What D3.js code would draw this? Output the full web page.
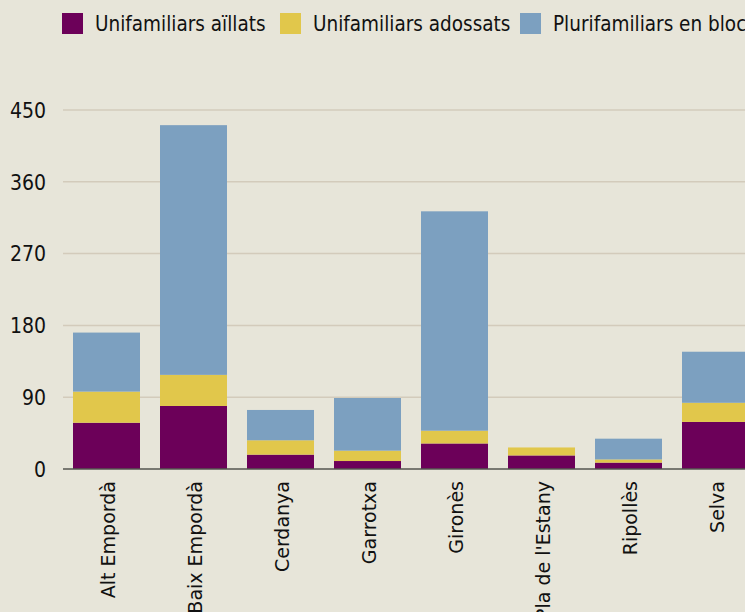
<!DOCTYPE html>
<html lang="ca">
<head>
    <meta charset="UTF-8">
    <title>Habitatges per comarca</title>
    <script src="https://d3js.org/d3.v7.min.js"></script>
    <style>
    body{
        margin: 0;
        background: #e7e5d9;
        overflow: hidden;
    }
    .grid line{
        stroke: #d3cbbb;
        stroke-width: 1.5;
    }
    .axis text{
        font-family: "DejaVu Sans Condensed", sans-serif;
        font-size: 21px;
        fill: #111;
    }
    .xlabel{
        font-family: "DejaVu Sans", sans-serif;
        font-size: 19px;
        fill: #111;
    }
    .legendTxt{
        font-family: "DejaVu Sans Condensed", sans-serif;
        font-size: 20.5px;
        fill: #111;
    }
    </style>
</head>
<body>
    <script>
    var width = 745;
    var height = 612;

    // dades
    var comarques = ["Alt Empordà", "Baix Empordà", "Cerdanya", "Garrotxa", "Gironès", "Pla de l'Estany", "Ripollès", "Selva"];
    var series = ["Unifamiliars aïllats", "Unifamiliars adossats", "Plurifamiliars en blocs"];
    var aillats  = [58, 79, 18, 10, 32, 17, 8, 59];
    var adossats = [39, 39, 18, 13, 16, 10, 4, 24];
    var blocs    = [74, 313, 38, 66, 275, 0, 26, 64];
    var yTicks = [0, 90, 180, 270, 360, 450];
    var colors = ["#6c0059", "#e1c74b", "#7ca0c0"];

    var svg = d3.select("body")
        .append("svg")
        .attr("width", width)
        .attr("height", height);

    svg.append("rect")
        .attr("width", width)
        .attr("height", height)
        .attr("fill", "#e7e5d9");

    var rows = comarques.map(function(c, i){
        return {name: c, s0: aillats[i], s1: adossats[i], s2: blocs[i]};
    });
    var stacked = d3.stack().keys(["s0", "s1", "s2"])(rows);

    // escales
    var xScale = d3.scaleBand()
        .domain(comarques)
        .range([63, 759])
        .paddingInner(0.23)
        .paddingOuter(0.115);

    var yScale = d3.scaleLinear()
        .domain([0, 450])
        .range([469, 110]);

    // línies de la graella
    svg.append("g")
        .attr("class", "grid")
        .selectAll("line")
        .data(yTicks.slice(1)).enter()
        .append("line")
        .attr("x1", 63)
        .attr("x2", width)
        .attr("y1", function(d){ return yScale(d); })
        .attr("y2", function(d){ return yScale(d); });

    // eix Y
    var yAxis = d3.axisLeft(yScale)
        .tickValues(yTicks)
        .tickSize(0)
        .tickPadding(0);
    var gy = svg.append("g")
        .attr("class", "axis")
        .attr("transform", "translate(46,0)")
        .call(yAxis);
    gy.select(".domain").remove();
    gy.selectAll("text").attr("dy", "0.35em");

    // barres
    svg.append("g")
        .selectAll("g")
        .data(stacked).enter()
        .append("g")
        .attr("fill", function(d, i){ return colors[i]; })
        .selectAll("rect")
        .data(function(d){ return d; }).enter()
        .append("rect")
        .attr("x", function(d){ return xScale(d.data.name); })
        .attr("width", xScale.bandwidth())
        .attr("y", function(d){ return yScale(d[1]); })
        .attr("height", function(d){ return yScale(d[0]) - yScale(d[1]); });

    // línia base
    svg.append("line")
        .attr("x1", 63)
        .attr("x2", width)
        .attr("y1", yScale(0))
        .attr("y2", yScale(0))
        .attr("stroke", "#55554f")
        .attr("stroke-width", 1.5);

    // etiquetes X
    svg.append("g")
        .selectAll("text")
        .data(comarques).enter()
        .append("text")
        .attr("class", "xlabel")
        .attr("text-anchor", "end")
        .attr("transform", function(d){
            return "translate(" + (xScale(d) + xScale.bandwidth() / 2 + 8) + ",481) rotate(-90)";
        })
        .text(function(d){ return d; });

    // llegenda
    var legendX = [62, 280, 520];
    var legend = svg.append("g");
    var item = legend.selectAll("g")
        .data(series).enter()
        .append("g")
        .attr("transform", function(d, i){ return "translate(" + legendX[i] + ",13)"; });
    item.append("rect")
        .attr("width", 21)
        .attr("height", 21)
        .attr("fill", function(d, i){ return colors[i]; });
    item.append("text")
        .attr("class", "legendTxt")
        .attr("x", 33)
        .attr("y", 18)
        .text(function(d){ return d; });
    </script>
</body>
</html>
